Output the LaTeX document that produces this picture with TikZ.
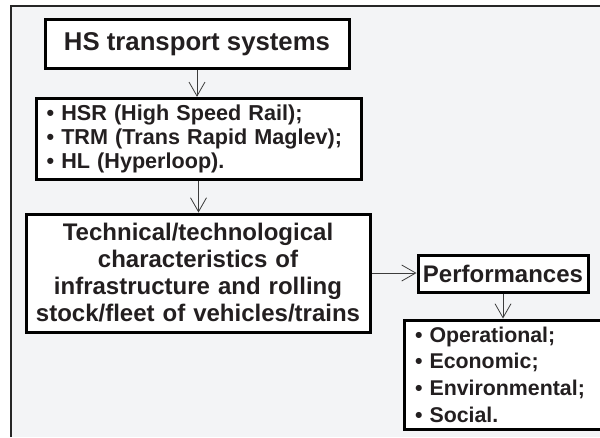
\documentclass[tikz,border=0pt]{standalone}
\usepackage{fontspec}
\setmainfont{Liberation Sans}
\usetikzlibrary{arrows.meta}

\definecolor{bggray}{RGB}{243,244,246}
\definecolor{txtgray}{RGB}{35,31,32}
\definecolor{lngray}{RGB}{60,60,60}

\tikzset{
  hsbox/.style={draw=black, line width=2.25pt, fill=white, inner sep=0pt, text=txtgray},
  hsarrow/.style={line width=0.6pt, draw=lngray, -{Straight Barb[length=10.5pt,width=12pt]}}
}

\begin{document}
\begin{tikzpicture}[x=0.75pt,y=0.75pt,yscale=-1,xscale=1]
        \useasboundingbox (0,0) rectangle (600,437);
        
        %Shape: Background
        \fill[bggray] (11,6) rectangle (600,437);
        \draw[line width=1.5pt, draw=black!85] (11,437) -- (11,6) -- (600,6);
        
        % Text Node
        \node[hsbox, minimum width=228pt, minimum height=37pt, font=\bfseries\fontsize{19.3}{22}\selectfont] (hs) at (197,44) {HS transport systems};
        % Text Node
        \node[hsbox, minimum width=243.75pt, minimum height=61pt, text width=228pt, align=left, font=\bfseries\fontsize{16.2}{18}\selectfont] (modes) at (198.5,139) {• HSR (High Speed Rail);\\• TRM (Trans Rapid Maglev);\\• HL (Hyperloop).};
        % Text Node
        \node[hsbox, minimum width=258pt, minimum height=88.5pt, text width=250pt, align=center, font=\bfseries\fontsize{18}{20.25}\selectfont] (tech) at (198,273) {Technical/technological\\characteristics of\\infrastructure and rolling\\stock/fleet of vehicles/trains};
        % Text Node
        \node[hsbox, minimum width=127.5pt, minimum height=27.75pt, font=\bfseries\fontsize{18}{20}\selectfont] (perf) at (503,273.5) {Performances};
        % Text Node
        \node[hsbox, minimum width=150.75pt, minimum height=81.75pt, text width=134.25pt, align=left, font=\bfseries\fontsize{16}{20}\selectfont] (kinds) at (504.5,374.5) {• Operational;\\• Economic;\\• Environmental;\\• Social.};
        
        %Straight Lines
        \draw[hsarrow] (hs.south) -- (hs.south |- modes.north);
        \draw[hsarrow] (modes.south) -- (modes.south |- tech.north);
        \draw[hsarrow] (tech.east) -- (tech.east -| perf.west);
        \draw[hsarrow] (perf.south) -- (perf.south |- kinds.north);
        
\end{tikzpicture}
\end{document}
